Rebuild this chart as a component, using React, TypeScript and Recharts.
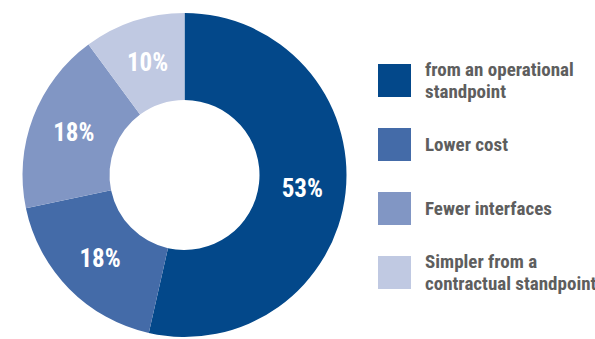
import { PieChart, Pie, Cell, Legend } from "recharts";

const reasons = [
  "from an operational\nstandpoint",
  "Lower cost",
  "Fewer interfaces",
  "Simpler from a\ncontractual standpoint",
];
const shares = [53, 18, 18, 10];
const colors = ["#03488a", "#446ba8", "#8196c4", "#c0c9e2"];

const data = reasons.map((name, i) => ({ name, value: shares[i] }));

const FONT = '"Roboto Condensed", "Liberation Sans Narrow", Roboto, sans-serif';
const RAD = Math.PI / 180;

const renderLabel = (props: any) => {
  const { cx, cy, midAngle, innerRadius, outerRadius, value } = props;
  const r = (innerRadius + outerRadius) / 2;
  const x = cx + r * Math.cos(-midAngle * RAD);
  const y = cy + r * Math.sin(-midAngle * RAD);
  return (
    <text
      x={x}
      y={y}
      fill="#ffffff"
      textAnchor="middle"
      dominantBaseline="central"
      fontFamily={FONT}
      fontWeight="bold"
      fontSize={25}
    >
      {value}%
    </text>
  );
};

// legend drawn from the same arrays so the order stays as in the data
const renderLegend = () => (
  <div style={{ fontFamily: FONT }}>
    {reasons.map((name, i) => (
      <div
        key={name}
        style={{ display: "flex", alignItems: "center", height: 33, marginBottom: 31 }}
      >
        <div style={{ width: 33, height: 33, background: colors[i], flexShrink: 0 }} />
        <div
          style={{
            marginLeft: 14,
            whiteSpace: "pre",
            fontSize: 19,
            lineHeight: "22px",
            fontWeight: "bold",
            color: "#5e5e5e",
          }}
        >
          {name}
        </div>
      </div>
    ))}
  </div>
);

export default function App() {
  return (
    <div style={{ width: 595, height: 339, background: "#fff" }}>
      <style>{`body{margin:0}`}</style>
      <PieChart width={595} height={339} margin={{ top: 0, right: 0, bottom: 0, left: 0 }}>
        <Pie
          data={data}
          dataKey="value"
          nameKey="name"
          cx={184.5}
          cy={175}
          innerRadius={75}
          outerRadius={162}
          startAngle={90}
          endAngle={-270}
          stroke="none"
          label={renderLabel}
          labelLine={false}
          isAnimationActive={false}
        >
          {data.map((d, i) => (
            <Cell key={d.name} fill={colors[i]} />
          ))}
        </Pie>
        <Legend
          content={renderLegend}
          layout="vertical"
          wrapperStyle={{ position: "absolute", left: 378, top: 64, width: 217 }}
        />
      </PieChart>
    </div>
  );
}
